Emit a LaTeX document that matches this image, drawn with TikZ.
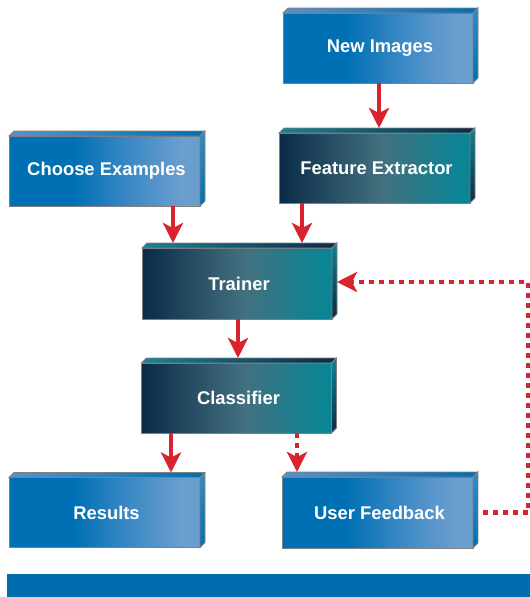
\documentclass[tikz,border=0pt]{standalone}
\usepackage{fontspec}
\setmainfont{Liberation Sans}
\usetikzlibrary{arrows.meta,calc}
\definecolor{blueL}{HTML}{0070B4}
\definecolor{blueM}{HTML}{3A88C4}
\definecolor{blueR}{HTML}{6A9ECF}
\definecolor{blueTop}{HTML}{5B91C9}
\definecolor{blueSide}{HTML}{0070B0}
\definecolor{darkL}{HTML}{0A2B47}
\definecolor{darkM}{HTML}{43707F}
\definecolor{darkR}{HTML}{0B8494}
\definecolor{darkTop}{HTML}{1A8294}
\definecolor{edgegray}{HTML}{808080}
\definecolor{arrred}{HTML}{D9232E}
\definecolor{barblue}{HTML}{006DAE}
\pgfdeclarehorizontalshading{bluefront}{100bp}{color(0bp)=(blueL); color(25bp)=(blueL); color(42bp)=(blueL); color(56bp)=(blueM); color(70bp)=(blueR); color(75bp)=(blueR); color(100bp)=(blueR)}
\pgfdeclarehorizontalshading{darkfront}{100bp}{color(0bp)=(darkL); color(25bp)=(darkL); color(52bp)=(darkM); color(72bp)=(darkR); color(75bp)=(darkR); color(100bp)=(darkR)}
\tikzset{
  boxbase/.style={draw=edgegray, line width=0.8pt, minimum width=190pt, minimum height=70pt,
    inner sep=0pt, outer sep=0pt, text=white, font=\bfseries\fontsize{18.4}{21}\selectfont,
    execute at begin node={\hspace*{4pt}}},
  bluebox/.style={boxbase, shading=bluefront},
  darkbox/.style={boxbase, shading=darkfront},
  arr/.style={draw=arrred, line width=4.5pt, -{Stealth[length=20pt, width=20pt, inset=5pt]}, shorten >=5pt},
  dotarr/.style={arr, dash pattern=on 5pt off 5pt},
  bevelline/.style={draw=edgegray, line width=0.8pt}
}
\newcommand{\bluebevel}[1]{%
  \path[bevelline, left color=blueTop, right color=blueSide] (#1.north west) -- ++(5,-5) -- ([shift={(5,-5)}]#1.north east) -- (#1.north east) -- cycle;
  \path[bevelline, top color=blueSide!80!white, bottom color=blueSide] (#1.north east) -- ++(5,-5) -- ([shift={(5,-5)}]#1.south east) -- (#1.south east) -- cycle;}
\newcommand{\darkbevel}[1]{%
  \path[bevelline, left color=darkTop, right color=darkL] (#1.north west) -- ++(5,-5) -- ([shift={(5,-5)}]#1.north east) -- (#1.north east) -- cycle;
  \path[bevelline, top color=darkR, bottom color=darkL] (#1.north east) -- ++(5,-5) -- ([shift={(5,-5)}]#1.south east) -- (#1.south east) -- cycle;}
\begin{document}
\begin{tikzpicture}[x=1pt, y=-1pt]
\useasboundingbox (0,0) rectangle (530,597);
\fill[barblue] (7,574) rectangle (530,597);

\node[bluebox] (ni) at (378,48) {New Images};
\node[darkbox, minimum width=191pt] (fe) at (374.5,168) {Feature Extractor};
\node[bluebox, minimum width=191pt] (ce) at (104.5,171) {Choose Examples};
\node[darkbox, minimum height=71pt] (tr) at (237,283.5) {Trainer};
\node[darkbox] (cl) at (236.5,398) {Classifier};
\node[bluebox, minimum width=191pt] (rs) at (104.5,512.5) {Results};
\node[bluebox, minimum width=191pt, minimum height=71pt] (uf) at (377.5,512.5) {User Feedback};

\bluebevel{ni}
\darkbevel{fe}
\bluebevel{ce}
\darkbevel{tr}
\darkbevel{cl}
\bluebevel{rs}
\bluebevel{uf}

\coordinate (loopc) at (528,282);

\draw[arr] (379,0 |- ni.south) -- (379,0 |- fe.north);
\draw[arr] (173,0 |- ce.south) -- (173,0 |- tr.north);
\draw[arr] (302,0 |- fe.south) -- (302,0 |- tr.north);
\draw[arr] (238,0 |- tr.south) -- (238,0 |- cl.north);
\draw[arr] (171,0 |- cl.south) -- (171,0 |- rs.north);
\draw[dotarr] (297,0 |- cl.south) -- (297,0 |- uf.north);
\draw[dotarr] ([xshift=10pt]uf.east) -| (loopc) -- (loopc -| tr.east);
\end{tikzpicture}
\end{document}
